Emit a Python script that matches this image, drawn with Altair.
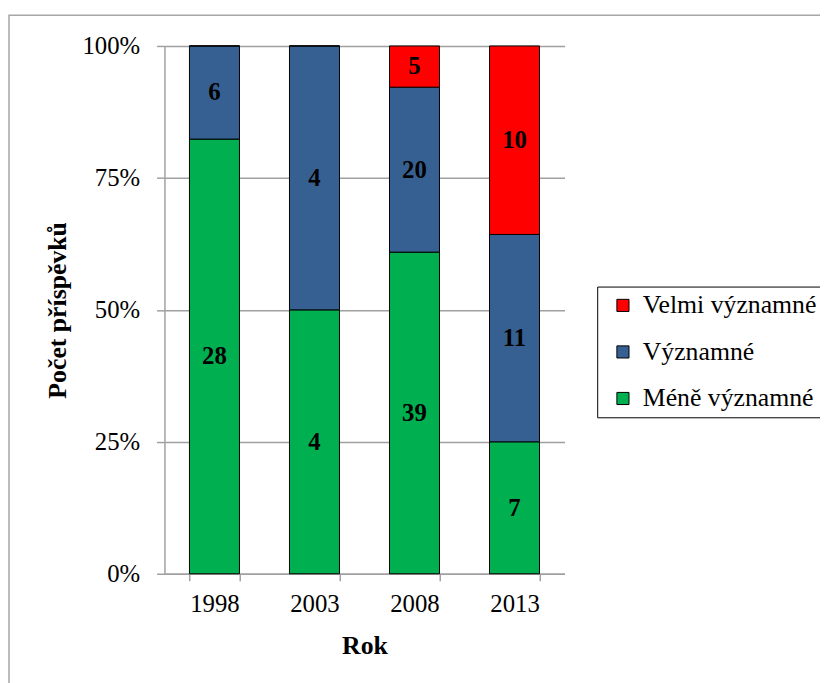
import altair as alt
import pandas as pd

years = ["1998", "2003", "2008", "2013"]
categories = ["Méně významné", "Významné", "Velmi významné"]
mene = [28, 4, 39, 7]
vyznamne = [6, 4, 20, 11]
velmi = [0, 0, 5, 10]
colors = ["#00B050", "#376092", "#FF0000"]

rows = []
for i, y in enumerate(years):
    for k, (cat, vals) in enumerate(zip(categories, [mene, vyznamne, velmi])):
        rows.append({"year": y, "cat": cat, "ord": k, "count": vals[i]})
df = pd.DataFrame(rows)

FONT = "Liberation Serif"

base = alt.Chart(df).transform_stack(
    stack="count", groupby=["year"], as_=["y0", "y1"],
    sort=[alt.SortField("ord", order="ascending")], offset="normalize"
).transform_calculate(mid="(datum.y0 + datum.y1) / 2")

x_enc = alt.X("year:N", sort=years, title="Rok",
              scale=alt.Scale(paddingInner=0.5, paddingOuter=0.25),
              axis=alt.Axis(labelAngle=0, tickBand="extent", tickSize=7,
                            labelPadding=11, titlePadding=17,
                            domainColor="#A0A0A0", tickColor="#A0A0A0",
                            domainWidth=1.5, tickWidth=1.5, grid=False))

bars = base.mark_bar(stroke="black", strokeWidth=1).encode(
    x=x_enc,
    y=alt.Y("y0:Q", scale=alt.Scale(domain=[0, 1]), title="Počet příspěvků",
            axis=alt.Axis(values=[0, 0.25, 0.5, 0.75, 1], format=".0%",
                          tickSize=8, labelPadding=17, titlePadding=12,
                          domainColor="#A0A0A0", tickColor="#A0A0A0",
                          gridColor="#A0A0A0", domainWidth=1.5, tickWidth=1.5,
                          gridWidth=1.5, grid=True)),
    y2="y1:Q",
    color=alt.Color("cat:N", scale=alt.Scale(domain=categories[::-1], range=colors[::-1]),
                    legend=alt.Legend(title=None, orient="none", legendX=437, legendY=243,
                                      symbolType="square", symbolSize=150,
                                      symbolStrokeColor="black", symbolStrokeWidth=1,
                                      labelFontSize=26, labelFont=FONT, labelColor="black",
                                      strokeColor="black", padding=6, rowPadding=21,
                                      symbolOffset=7, labelOffset=7, labelLimit=400)),
)

labels = base.transform_filter("datum.count > 0").mark_text(
    font=FONT, fontSize=25, fontWeight="bold", color="black", baseline="middle"
).encode(
    x=alt.X("year:N", sort=years),
    y=alt.Y("mid:Q"),
    text="count:Q",
)

border = alt.Chart(pd.DataFrame({"a": [0]})).mark_rect(
    fill=None, stroke="#A6A6A6", strokeWidth=1.5
).encode(
    x=alt.value(-157), x2=alt.value(1200), y=alt.value(-31), y2=alt.value(1200)
)

chart = alt.layer(border, bars, labels).properties(
    width=404, height=533,
    autosize="none",
    padding={"left": 158, "top": 35, "right": 258, "bottom": 107},
).configure_view(stroke=None).configure_axis(
    labelFont=FONT, titleFont=FONT, labelFontSize=25, titleFontSize=26,
    labelColor="black", titleColor="black", titleFontWeight="bold",
).configure_legend(
    labelFont=FONT, labelFontSize=26, labelColor="black",
).configure_text(font=FONT)

chart.save("out.html", embed_options={"renderer": "svg", "actions": False})
